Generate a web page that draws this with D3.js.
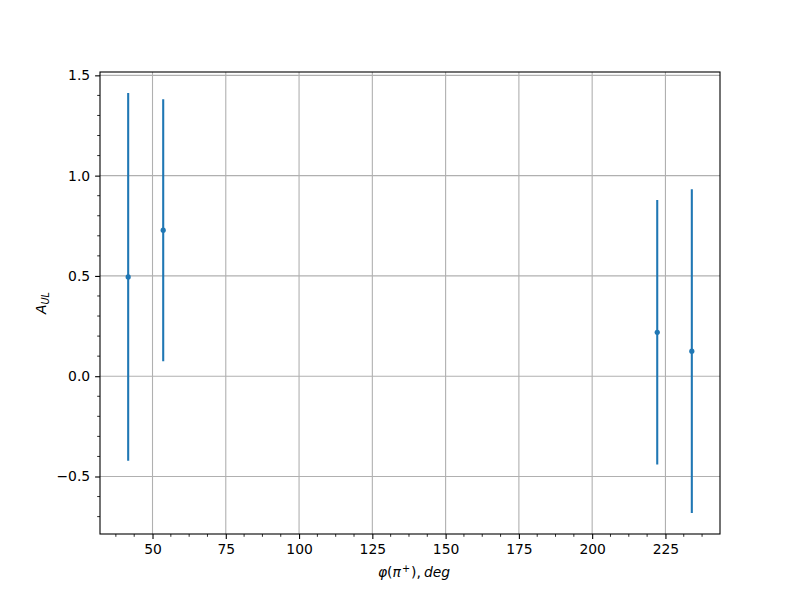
<!DOCTYPE html>
<html><head><meta charset="utf-8">
<script src="https://cdn.jsdelivr.net/npm/d3@7"></script>
<style>body{margin:0;background:#fff}text{font-family:"DejaVu Sans",sans-serif}</style>
</head><body><svg id="c" width="800" height="600"></svg>
<script>
const phi = [41.7, 53.65, 222.2, 234.0];
const aul = [0.495, 0.728, 0.219, 0.125];
const err = [0.917, 0.653, 0.659, 0.807];
const xTicks = [50, 75, 100, 125, 150, 175, 200, 225];
const yTicks = [-0.5, 0.0, 0.5, 1.0, 1.5];

const svg = d3.select("#c");
const L=100, R=720, T=72, B=534;
const xmin=d3.min(phi), xmax=d3.max(phi);
const lo=d3.min(aul.map((v,i)=>v-err[i])), hi=d3.max(aul.map((v,i)=>v+err[i]));
const x=d3.scaleLinear().domain([xmin-0.05*(xmax-xmin), xmax+0.05*(xmax-xmin)]).range([L,R]);
const y=d3.scaleLinear().domain([lo-0.05*(hi-lo), hi+0.05*(hi-lo)]).range([B,T]);
const fmt=v=>(v<0?"\u2212":"")+Math.abs(v).toFixed(1);

// grid
const g=svg.append("g");
g.selectAll(".gx").data(xTicks).join("line").attr("x1",d=>x(d)).attr("x2",d=>x(d)).attr("y1",T).attr("y2",B).attr("stroke","#b0b0b0").attr("stroke-width",1.1);
g.selectAll(".gy").data(yTicks).join("line").attr("y1",d=>y(d)).attr("y2",d=>y(d)).attr("x1",L).attr("x2",R).attr("stroke","#b0b0b0").attr("stroke-width",1.1);

// data
const pts=phi.map((p,i)=>({p,a:aul[i],e:err[i]}));
svg.append("g").selectAll("line").data(pts).join("line")
 .attr("x1",d=>x(d.p)).attr("x2",d=>x(d.p)).attr("y1",d=>y(d.a-d.e)).attr("y2",d=>y(d.a+d.e))
 .attr("stroke","#1f77b4").attr("stroke-width",2.08);
svg.append("g").selectAll("circle").data(pts).join("circle")
 .attr("cx",d=>x(d.p)).attr("cy",d=>y(d.a)).attr("r",2.6).attr("fill","#1f77b4");

// axes
const xAx=svg.append("g").attr("transform",`translate(0,${B})`)
 .call(d3.axisBottom(x).tickValues(xTicks).tickFormat(d3.format("d")).tickSize(4.9).tickPadding(4.9));
const minorX=d3.range(25,250,6.25).filter(v=>v>x.domain()[0]&&v<x.domain()[1]&&!xTicks.includes(v));
xAx.selectAll(".mn").data(minorX).join("line").attr("x1",d=>x(d)).attr("x2",d=>x(d)).attr("y2",2.8).attr("stroke","#000").attr("stroke-width",0.83);
const yAx=svg.append("g").attr("transform",`translate(${L},0)`)
 .call(d3.axisLeft(y).tickValues(yTicks).tickFormat(fmt).tickSize(4.9).tickPadding(4.9));
const minorY=d3.range(-8,16).map(v=>v/10).filter(v=>v>y.domain()[0]&&v<y.domain()[1]&&!yTicks.some(t=>Math.abs(t-v)<1e-9));
yAx.selectAll(".mn").data(minorY).join("line").attr("x1",0).attr("x2",-2.8).attr("y1",d=>y(d)).attr("y2",d=>y(d)).attr("stroke","#000").attr("stroke-width",0.83);
[xAx,yAx].forEach(a=>{a.select(".domain").remove();a.selectAll(".tick line").attr("stroke-width",1.1);a.selectAll("text").attr("font-size","13.9px").attr("fill","#000").attr("font-family","DejaVu Sans");});

svg.append("rect").attr("x",L).attr("y",T).attr("width",R-L).attr("height",B-T).attr("fill","none").attr("stroke","#000").attr("stroke-width",1.1);

// labels
const xl=svg.append("text").attr("x",(L+R)/2+4).attr("y",577).attr("text-anchor","middle").attr("font-size","13.9px");
xl.append("tspan").attr("font-style","italic").text("\u03c6");
xl.append("tspan").text("(");
xl.append("tspan").attr("font-style","italic").text("\u03c0");
xl.append("tspan").attr("font-size","9.7px").attr("dy",-5).attr("dx",1).text("+");
xl.append("tspan").attr("dy",5).attr("dx",1).text("),");
xl.append("tspan").attr("font-style","italic").attr("dx",3).text("deg");
const yl=svg.append("text").attr("transform",`translate(46,${(T+B)/2}) rotate(-90)`).attr("text-anchor","middle").attr("font-size","13.9px").attr("font-style","italic");
yl.append("tspan").text("A");
yl.append("tspan").attr("font-size","9.7px").attr("dy",3).text("UL");
</script></body></html>
